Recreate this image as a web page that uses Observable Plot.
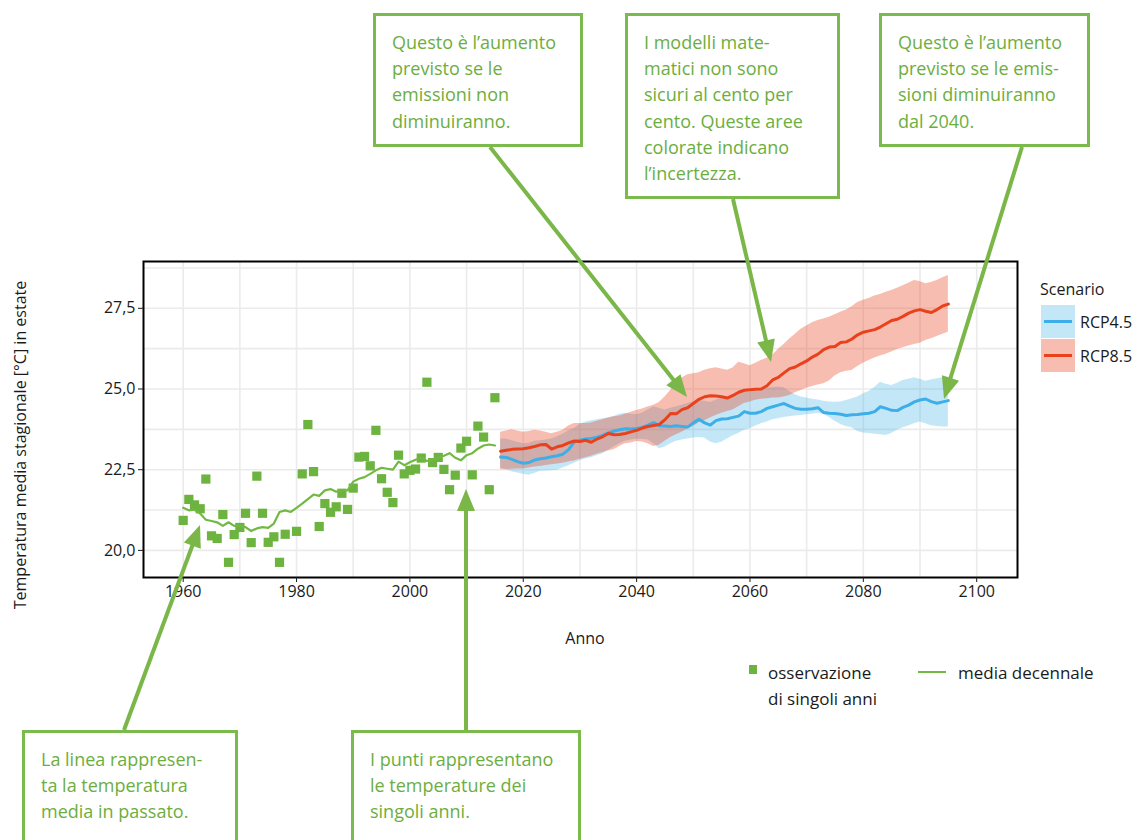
<!DOCTYPE html>
<html><head><meta charset="utf-8">
<script src="https://cdn.jsdelivr.net/npm/d3@7"></script>
<script src="https://cdn.jsdelivr.net/npm/@observablehq/plot@0.6"></script>
<style>
body{margin:0;background:#fff;}
#wrap{position:relative;width:1143px;height:840px;overflow:hidden;font-family:"Open Sans",sans-serif;color:#1a1a1a;background:#fff;}
#chart{position:absolute;left:0;top:0;}
.box{position:absolute;border:3px solid #7bba4d;background:#fff;color:#6cae3e;font-size:18px;line-height:26.2px;padding:13px 16px;box-sizing:border-box;white-space:nowrap;}
.t{position:absolute;white-space:nowrap;}
#arrows{position:absolute;left:0;top:0;}
</style></head><body><div id="wrap"><div id="chart"></div></div>
<script>
// ---- data ----
const obsYears = [1960,1961,1962,1963,1964,1965,1966,1967,1968,1969,1970,1971,1972,1973,1974,1975,1976,1977,1978,
  1980,1981,1982,1983,1984,1985,1986,1987,1988,1989,1990,1991,1992,1993,1994,1995,1996,1997,1998,1999,
  2000,2001,2002,2003,2004,2005,2006,2007,2008,2009,2010,2011,2012,2013,2014,2015];
const obsTemps = [20.93,21.58,21.41,21.29,22.21,20.45,20.37,21.11,19.63,20.49,20.71,21.15,20.24,22.30,21.15,20.25,20.42,19.63,20.50,
  20.59,22.37,23.90,22.44,20.74,21.45,21.18,21.35,21.77,21.27,21.93,22.89,22.91,22.62,23.72,22.22,21.80,21.48,22.95,22.37,
  22.48,22.52,22.86,25.21,22.72,22.88,22.51,21.88,22.33,23.17,23.38,22.34,23.85,23.51,21.88,24.73];

const meanYears = d3.range(1960, 2016);
const meanTemps = [21.32,21.24,21.26,21.14,20.95,20.91,20.87,20.76,20.87,20.76,
  20.76,20.72,20.60,20.68,20.72,20.70,20.83,21.19,21.24,21.19,
  21.32,21.45,21.59,21.73,21.69,21.86,21.90,21.82,21.86,21.86,
  22.13,22.22,22.27,22.37,22.48,22.56,22.53,22.50,22.75,22.64,
  22.73,22.81,22.87,22.77,22.81,22.87,22.93,23.01,22.87,22.79,
  22.95,23.01,23.15,23.25,23.28,23.25];

const projYears = d3.range(2016, 2096);
const rcp85 = [23.07,23.10,23.13,23.14,23.15,23.18,23.22,23.27,23.28,23.14,
  23.21,23.25,23.33,23.39,23.37,23.41,23.35,23.45,23.52,23.62,
  23.58,23.59,23.62,23.67,23.72,23.79,23.84,23.87,23.90,24.05,
  24.24,24.23,24.36,24.42,24.55,24.68,24.76,24.79,24.78,24.76,
  24.72,24.80,24.90,24.96,24.98,24.99,25.00,25.10,25.28,25.36,
  25.50,25.63,25.68,25.78,25.87,25.99,26.08,26.22,26.30,26.32,
  26.44,26.46,26.55,26.68,26.76,26.80,26.84,26.92,27.02,27.12,
  27.16,27.25,27.35,27.42,27.46,27.41,27.37,27.46,27.57,27.63];
const rcp85Hi = [23.66,23.70,23.74,23.70,23.66,23.68,23.72,23.70,23.66,23.61,
  23.66,23.72,23.85,23.93,23.93,23.93,23.95,24.00,24.05,24.10,
  24.14,24.16,24.22,24.28,24.33,24.38,24.44,24.50,24.58,24.75,
  24.95,25.18,25.34,25.44,25.47,25.50,25.58,25.63,25.66,25.62,
  25.58,25.65,25.83,25.78,25.72,25.80,25.88,25.95,26.05,26.22,
  26.38,26.55,26.70,26.85,26.95,27.05,27.12,27.17,27.22,27.30,
  27.38,27.45,27.55,27.68,27.75,27.80,27.88,27.93,28.00,28.05,
  28.12,28.20,28.28,28.36,28.33,28.26,28.30,28.36,28.45,28.52];
const rcp85Lo = [22.50,22.50,22.51,22.52,22.52,22.55,22.58,22.60,22.63,22.65,
  22.68,22.70,22.74,22.77,22.82,22.87,22.92,22.98,23.03,23.08,
  23.12,23.22,23.30,23.33,23.37,23.36,23.30,23.22,23.26,23.38,
  23.50,23.58,23.66,23.76,23.84,23.95,24.02,24.10,24.18,24.25,
  24.30,24.35,24.45,24.55,24.60,24.65,24.68,24.70,24.72,24.72,
  24.75,24.80,24.88,24.95,25.02,25.08,25.12,25.16,25.25,25.40,
  25.50,25.55,25.57,25.70,25.80,25.88,25.96,26.02,26.08,26.15,
  26.22,26.28,26.33,26.38,26.42,26.50,26.56,26.63,26.70,26.76];
const rcp45 = [22.89,22.88,22.82,22.75,22.70,22.72,22.80,22.84,22.86,22.90,
  22.93,22.98,23.12,23.36,23.41,23.45,23.47,23.51,23.56,23.64,
  23.70,23.74,23.77,23.76,23.78,23.81,23.88,23.96,23.86,23.85,
  23.84,23.86,23.84,23.82,23.95,24.06,23.95,23.88,24.02,24.07,
  24.08,24.12,24.16,24.30,24.25,24.25,24.30,24.40,24.45,24.50,
  24.55,24.47,24.40,24.37,24.37,24.39,24.42,24.27,24.25,24.24,
  24.22,24.18,24.20,24.21,24.23,24.25,24.30,24.45,24.40,24.34,
  24.33,24.43,24.50,24.60,24.66,24.69,24.61,24.56,24.60,24.64];
const rcp45Hi = [23.45,23.45,23.40,23.35,23.30,23.32,23.38,23.40,23.42,23.45,
  23.52,23.60,23.70,23.78,23.90,23.98,24.02,24.05,24.08,24.10,
  24.15,24.22,24.25,24.22,24.20,24.25,24.35,24.45,24.40,24.35,
  24.40,24.45,24.50,24.55,24.60,24.65,24.62,24.58,24.65,24.72,
  24.75,24.78,24.85,24.92,24.90,24.92,24.95,25.02,25.05,25.06,
  25.04,24.92,24.82,24.75,24.72,24.68,24.66,24.62,24.60,24.59,
  24.60,24.64,24.70,24.75,24.85,24.92,25.05,25.21,25.15,25.11,
  25.18,25.26,25.30,25.35,25.30,25.24,25.28,25.32,25.35,25.37];
const rcp45Lo = [22.55,22.50,22.44,22.40,22.36,22.33,22.38,22.45,22.46,22.47,
  22.48,22.55,22.62,22.70,22.78,22.83,22.87,22.93,22.99,23.10,
  23.20,23.30,23.38,23.42,23.44,23.44,23.42,23.30,23.15,23.20,
  23.30,23.38,23.42,23.45,23.48,23.50,23.48,23.36,23.30,23.35,
  23.45,23.55,23.62,23.72,23.77,23.85,23.92,23.98,24.05,24.08,
  24.12,24.14,24.16,24.18,24.20,24.22,24.25,24.22,24.12,24.00,
  23.90,23.84,23.80,23.68,23.64,23.62,23.60,23.58,23.56,23.62,
  23.72,23.80,23.85,23.92,23.98,23.92,23.86,23.84,23.82,23.82];

const xTicks = [1960,1980,2000,2020,2040,2060,2080,2100];
const xMinor = [1970,1990,2010,2030,2050,2070,2090];
const yTicks = [20,22.5,25,27.5];
const yMinor = [21.25,23.75,26.25,28.75];
const scenarios = ["RCP4.5","RCP8.5"];

// ---- tables ----
const obs = obsYears.map((y,i)=>({year:y,temp:obsTemps[i]}));
const mean = meanYears.map((y,i)=>({year:y,temp:meanTemps[i]}));
const proj = projYears.map((y,i)=>({year:y,rcp85:rcp85[i],hi85:rcp85Hi[i],lo85:rcp85Lo[i],rcp45:rcp45[i],hi45:rcp45Hi[i],lo45:rcp45Lo[i]}));

const GREEN = "#6db33f", BLUE = "#3caee8", RED = "#e8411c";
const gridStyle = {stroke:"#ebebeb", strokeOpacity:1, strokeWidth:1.6};

const plot = Plot.plot({
  width:1143, height:840,
  marginLeft:143, marginRight:126, marginTop:261, marginBottom:263,
  style:{fontFamily:"Open Sans", fontSize:"16px", color:"#1a1a1a", background:"transparent"},
  x:{domain:[1953,2107.2], label:null},
  y:{domain:[19.16,28.95], label:null},
  marks:[
    Plot.gridX(xMinor, gridStyle),
    Plot.gridY(yMinor, gridStyle),
    Plot.gridX(xTicks, gridStyle),
    Plot.gridY(yTicks, gridStyle),
    Plot.areaY(proj,{x:"year", y1:"lo45", y2:"hi45", fill:BLUE, fillOpacity:0.3}),
    Plot.areaY(proj,{x:"year", y1:"lo85", y2:"hi85", fill:RED, fillOpacity:0.35}),
    Plot.line(proj,{x:"year", y:"rcp45", stroke:BLUE, strokeWidth:3}),
    Plot.line(proj,{x:"year", y:"rcp85", stroke:RED, strokeWidth:3}),
    Plot.dot(obs,{x:"year", y:"temp", symbol:"square", r:5.2, fill:GREEN}),
    Plot.line(mean,{x:"year", y:"temp", stroke:"#72b944", strokeWidth:2.2}),
    Plot.frame({stroke:"#000", strokeWidth:2}),
    Plot.axisX({ticks:xTicks, tickFormat:d=>String(d), tickSize:5, tickPadding:3, label:null, fontSize:16}),
    Plot.axisY({ticks:yTicks, tickFormat:d=>d.toFixed(1).replace(".",","), tickSize:5, tickPadding:3, label:null, fontSize:16})
  ]
});
const wrap = document.getElementById("wrap");
document.getElementById("chart").appendChild(plot);

function addText(txt, left, cy, opts={}){
  const d = document.createElement("div");
  d.className = "t";
  d.textContent = txt;
  d.style.left = left+"px";
  d.style.top = cy+"px";
  d.style.fontSize = (opts.size||16)+"px";
  d.style.transform = opts.transform || "translate(0,-50%)";
  if (opts.color) d.style.color = opts.color;
  wrap.appendChild(d);
  return d;
}
// axis titles
addText("Anno", 585, 638, {transform:"translate(-50%,-50%)", size:16});
addText("Temperatura media stagionale [°C] in estate", 20, 445, {transform:"translate(-50%,-50%) rotate(-90deg)", size:16});

// scenario legend
addText("Scenario", 1040, 289, {size:16});
const keyCols = [[BLUE,"rgba(60,174,232,0.3)"],[RED,"rgba(232,65,28,0.35)"]];
scenarios.forEach((s,i)=>{
  const k = document.createElement("div");
  k.style.cssText = `position:absolute;left:1041px;top:${305+i*34}px;width:34px;height:33px;background:${keyCols[i][1]};`;
  const l = document.createElement("div");
  l.style.cssText = `position:absolute;left:3px;top:15px;width:28px;height:3px;background:${keyCols[i][0]};`;
  k.appendChild(l); wrap.appendChild(k);
  addText(s, 1080, 322+i*34, {size:16});
});

// bottom legend
const sq = document.createElement("div");
sq.style.cssText = `position:absolute;left:749px;top:665px;width:8px;height:9px;background:${GREEN};`;
wrap.appendChild(sq);
addText("osservazione", 768, 672, {size:17});
addText("di singoli anni", 768, 698, {size:17});
const lk = document.createElement("div");
lk.style.cssText = `position:absolute;left:918px;top:671px;width:28px;height:2.2px;background:#72b944;`;
wrap.appendChild(lk);
addText("media decennale", 958, 672, {size:17});

// annotation boxes
const boxes = [
  {l:373,t:13,w:210,h:134,html:"Questo è l’aumento<br>previsto se le<br>emissioni non<br>diminuiranno."},
  {l:625,t:13,w:215,h:186,html:"I modelli mate-<br>matici non sono<br>sicuri al cento per<br>cento. Queste aree<br>colorate indicano<br>l’incertezza."},
  {l:879,t:13,w:211,h:134,html:"Questo è l’aumento<br>previsto se le emis-<br>sioni diminuiranno<br>dal 2040."},
  {l:22,t:730,w:216,h:130,html:"La linea rappresen-<br>ta la temperatura<br>media in passato."},
  {l:351,t:730,w:230,h:130,html:"I punti rappresentano<br>le temperature dei<br>singoli anni."}
];
boxes.forEach(b=>{
  const d = document.createElement("div");
  d.className = "box";
  d.style.left=b.l+"px"; d.style.top=b.t+"px"; d.style.width=b.w+"px"; d.style.height=b.h+"px";
  d.innerHTML = b.html;
  wrap.appendChild(d);
});

// arrows
const arrows = [
  [490,147,687,397],[733,199,771,362],[1022,147,944,399],[124,730,200,525],[466,730,466,489]
];
const ns = "http://www.w3.org/2000/svg";
const svg = document.createElementNS(ns,"svg");
svg.setAttribute("id","arrows"); svg.setAttribute("width",1143); svg.setAttribute("height",840);
arrows.forEach(([x0,y0,x1,y1])=>{
  const dx=x1-x0, dy=y1-y0, L=Math.hypot(dx,dy), ux=dx/L, uy=dy/L, px=-uy, py=ux;
  const hl=22, hw=9;
  const bx=x1-ux*hl, by=y1-uy*hl;
  const ln=document.createElementNS(ns,"line");
  ln.setAttribute("x1",x0); ln.setAttribute("y1",y0); ln.setAttribute("x2",bx+ux*2); ln.setAttribute("y2",by+uy*2);
  ln.setAttribute("stroke","#7ab648"); ln.setAttribute("stroke-width",4);
  svg.appendChild(ln);
  const pg=document.createElementNS(ns,"polygon");
  pg.setAttribute("points",`${x1},${y1} ${bx+px*hw},${by+py*hw} ${bx-px*hw},${by-py*hw}`);
  pg.setAttribute("fill","#7ab648");
  svg.appendChild(pg);
});
wrap.appendChild(svg);
</script></body></html>
